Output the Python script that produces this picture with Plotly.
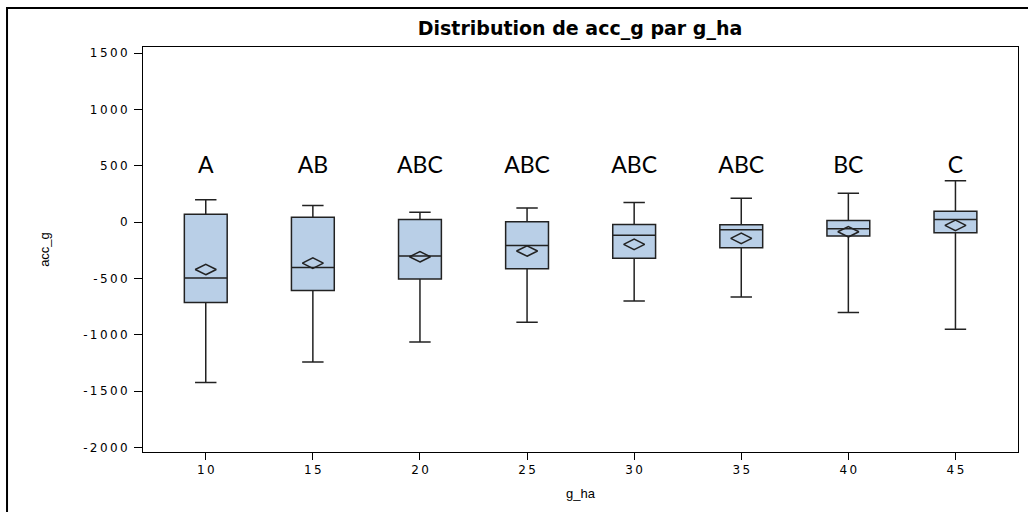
import plotly.graph_objects as go

g_ha = [10, 15, 20, 25, 30, 35, 40, 45]
lower_whisker = [-1422, -1241, -1064, -888, -700, -664, -802, -950]
q1 = [-712, -606, -505, -414, -320, -226, -123, -94]
median = [-496, -403, -300, -206, -115, -67, -59, 24]
q3 = [70, 44, 24, 3, -20, -23, 15, 97]
upper_whisker = [200, 147, 88, 126, 174, 212, 256, 368]
means = [-420, -364, -307, -256, -197, -144, -85, -29]
letters = ["A", "AB", "ABC", "ABC", "ABC", "ABC", "BC", "C"]
letter_y = 485
y_ticks = [-2000, -1500, -1000, -500, 0, 500, 1000, 1500]

SP = "\u2009"


def spaced(v):
    return SP.join(str(v))


fig = go.Figure()
fig.add_trace(go.Box(
    x=g_ha, q1=q1, median=median, q3=q3,
    lowerfence=lower_whisker, upperfence=upper_whisker,
    width=2, whiskerwidth=0.5,
    fillcolor="#b9cfe7", line=dict(color="#222222", width=1.5),
    boxpoints=False, showlegend=False, hoverinfo="skip",
))
fig.add_trace(go.Scatter(
    x=g_ha, y=means, mode="markers",
    marker=dict(symbol="diamond-wide-open", size=15, color="#222222",
                line=dict(width=1.5, color="#222222")),
    showlegend=False, hoverinfo="skip",
))
fig.add_trace(go.Scatter(
    x=g_ha, y=[letter_y] * len(g_ha), mode="text", text=letters,
    textfont=dict(family="Lato", size=23, color="black"),
    showlegend=False, hoverinfo="skip",
))

fig.add_shape(type="rect", xref="paper", yref="paper",
              x0=-0.1554, x1=1.02, y0=-0.2, y1=1.0963,
              line=dict(color="black", width=2), layer="above")

fig.update_layout(
    width=1028, height=512,
    margin=dict(l=143, r=10, t=47, b=60),
    paper_bgcolor="white", plot_bgcolor="white",
    title=dict(text="<b>Distribution de acc_g par g_ha</b>",
               x=(580 / 1028), xanchor="center", y=1 - 28 / 512, yanchor="middle",
               font=dict(family="DejaVu Sans", size=19, color="black")),
    font=dict(family="DejaVu Sans", size=12, color="black"),
)
fig.update_xaxes(
    range=[7.07, 47.92], tickvals=g_ha, ticktext=[spaced(v) for v in g_ha],
    ticks="outside", ticklen=7, tickcolor="black",
    showline=True, linecolor="black", linewidth=1, mirror=True,
    showgrid=False, zeroline=False, automargin=False,
    title=dict(text="g_ha", font=dict(family="Liberation Sans", size=13), standoff=12),
    tickfont=dict(size=12),
)
fig.update_yaxes(
    range=[-2040, 1555], tickvals=y_ticks, ticktext=[spaced(v) for v in y_ticks],
    ticks="outside", ticklen=8, tickcolor="black", ticklabelstandoff=4,
    showline=True, linecolor="black", linewidth=1, mirror=True,
    showgrid=False, zeroline=False, automargin=False,
    title=dict(text="acc_g", font=dict(family="Liberation Sans", size=13), standoff=30),
    tickfont=dict(size=12),
)

fig.write_html("out.html", config={"displayModeBar": False},
               post_script="document.body.style.margin='0px';")
